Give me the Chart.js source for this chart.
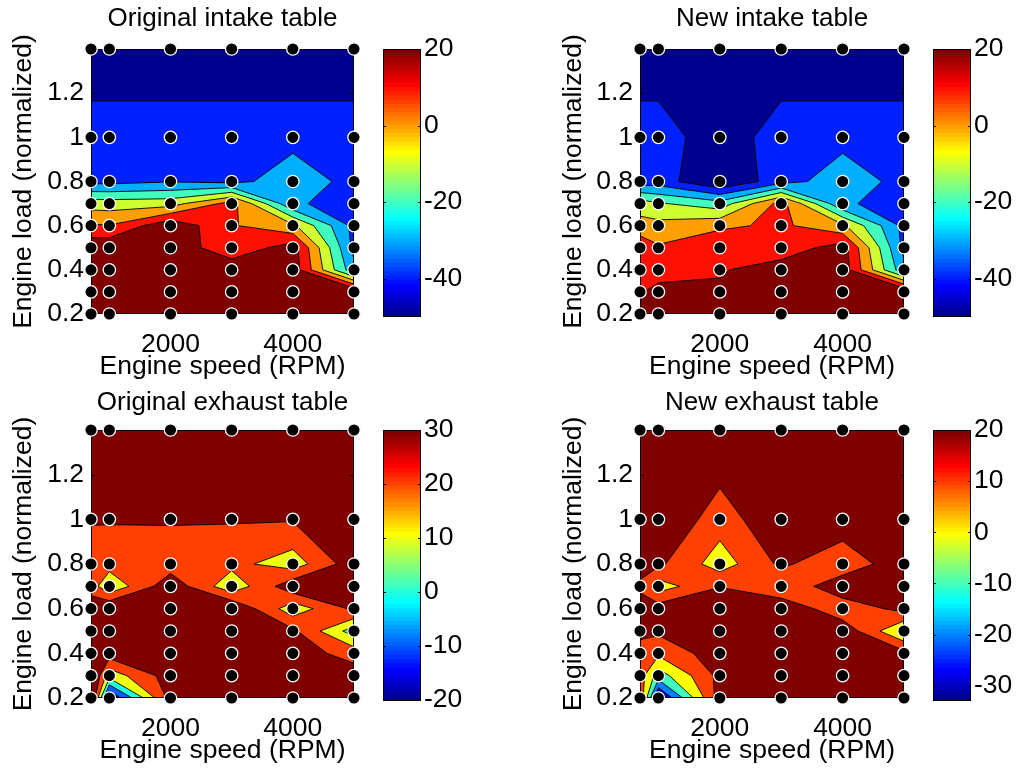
<!DOCTYPE html>
<html>
<head>
<meta charset="utf-8">
<script src="https://cdn.jsdelivr.net/npm/chart.js@4/dist/chart.umd.min.js"></script>
<style>
  body { margin: 0; background: #fff; }
  #fig { position: relative; width: 1018px; height: 769px; overflow: hidden; background: #fff; }
  #fig canvas { position: absolute; }
</style>
</head>
<body>
<div id="fig">
  <canvas id="intakeOld" width="364" height="385" style="left:0px;top:0px"></canvas>
  <canvas id="intakeOldBar" width="105" height="330" style="left:370px;top:10px"></canvas>
  <canvas id="intakeNew" width="364" height="385" style="left:550px;top:0px"></canvas>
  <canvas id="intakeNewBar" width="98" height="330" style="left:920px;top:10px"></canvas>
  <canvas id="exhaustOld" width="364" height="384" style="left:0px;top:385px"></canvas>
  <canvas id="exhaustOldBar" width="105" height="340" style="left:370px;top:390px"></canvas>
  <canvas id="exhaustNew" width="364" height="384" style="left:550px;top:385px"></canvas>
  <canvas id="exhaustNewBar" width="98" height="340" style="left:920px;top:390px"></canvas>
</div>
<script>
Chart.defaults.font.family = "'Liberation Sans', Arial, sans-serif";
Chart.defaults.font.size = 26.5;
Chart.defaults.color = '#000';

// table breakpoints
var speeds = [700, 1000, 2000, 3000, 4000, 5000];
var loads = [0.2, 0.3, 0.4, 0.5, 0.6, 0.7, 0.8, 1.0, 1.4];
var speedTicks = [2000, 4000];
var loadTicks = [0.2, 0.4, 0.6, 0.8, 1, 1.2];

// cam tables, one row per load (0.2 first), one column per speed
var intakeOriginal = [
  [30, 30, 30, 30, 30, 30],
  [30, 30, 30, 30, 30, 30],
  [30, 30, 30, 27, 26, -27],
  [27.7, 28, 27, 13, 24.9, -33],
  [11, 10.5, 27.8, 11, 2, -33],
  [-4.5, -5, -4.2, 14, -29, -33],
  [-33, -33, -30.5, -33, -24.7, -33],
  [-33, -33, -33, -33, -33, -33],
  [-50, -50, -50, -50, -50, -50]
];
var intakeNew = [
  [24.3, 25, 25, 30, 30, 30],
  [19, 23.5, 21.7, 30, 30, 30],
  [18.5, 15, 19, 25.25, 26, -27],
  [17.4, 11.2, 18, 13.9, 24.9, -33],
  [3.7, 3.3, 8, 12, 2, -33],
  [-4.9, -9, -16, 14, -29, -33],
  [-35.2, -35, -50, -34, -24.7, -33],
  [-33, -33, -48.6, -33, -33, -33],
  [-50, -50, -50, -50, -50, -50]
];
var exhaustOriginal = [
  [45, -20.3, 34, 35, 35, 35],
  [45, 14, 35, 35, 35, 35],
  [35, 35, 35, 35, 35, 26],
  [35, 35, 35, 35, 32, 5],
  [37, 40, 35, 40, 14, 32],
  [25, 12, 36.9, 13, 37, 35],
  [25, 24.1, 25, 23, 14.8, 36],
  [30.8, 30.8, 30.8, 30.8, 30.8, 35],
  [35, 35, 35, 35, 35, 35]
];
var exhaustNew = [
  [19, -33, 25, 30, 30, 30],
  [15, -5, 23, 30, 30, 30],
  [12.2, 12, 26, 30, 30, 23],
  [25, 22, 30, 30, 27, -1],
  [25, 25, 30, 28, 12.9, 23.5],
  [18, 5, 19.5, 11, 28, 28],
  [25, 22, 5, 22, 12, 28],
  [30, 30, 14.6, 28.8, 27.6, 30],
  [30, 30, 30, 30, 30, 30]
];

// contour levels and colorbar ticks
var intakeLevels = [-50, -40, -30, -20, -10, 0, 10, 20];
var exhaustOriginalLevels = [-20, -10, 0, 10, 20, 30];
var exhaustNewLevels = [-30, -20, -10, 0, 10, 20];
var intakeBarTicks = [-40, -20, 0, 20];
var exhaustOriginalBarTicks = [-20, -10, 0, 10, 20, 30];
var exhaustNewBarTicks = [-30, -20, -10, 0, 10, 20];

// matlab style jet colormap
function jet(m) {
  var n = Math.ceil(m / 4);
  var u = [];
  var k;
  for (k = 1; k <= n; k++) u.push(k / n);
  for (k = 1; k < n; k++) u.push(1);
  for (k = n; k >= 1; k--) u.push(k / n);
  var g0 = Math.ceil(n / 2) - (m % 4 === 1 ? 1 : 0);
  var map = [];
  for (k = 0; k < m; k++) map.push([0, 0, 0]);
  u.forEach(function(val, i) {
    var g = g0 + i, r = g + n, b = g - n;
    if (r >= 0 && r < m) map[r][0] = val;
    if (g >= 0 && g < m) map[g][1] = val;
    if (b >= 0 && b < m) map[b][2] = val;
  });
  return map.map(function(c) {
    return 'rgb(' + c.map(function(v) { return Math.round(v * 255); }).join(',') + ')';
  });
}
var JET = jet(64);

function colorRange(table, levels) {
  var all = [].concat.apply([], table);
  return { min: Math.min.apply(null, all), max: Math.max.apply(null, levels) };
}
function colorOf(v, range) {
  var i = Math.floor((v - range.min) / (range.max - range.min) * JET.length);
  return JET[Math.max(0, Math.min(JET.length - 1, i))];
}

// filled region and contour segments of one grid cell for one level
// corners go bottom-left, bottom-right, top-right, top-left
function cellPieces(c, level) {
  var hi = c.map(function(p) { return p.v >= level; });
  var count = hi.filter(Boolean).length;
  if (count === 0) return { polys: [], segs: [] };
  if (count === 4) return { polys: [c], segs: [] };
  function cross(a, b) {
    var t = (level - a.v) / (b.v - a.v);
    return { x: a.x + t * (b.x - a.x), y: a.y + t * (b.y - a.y) };
  }
  var polys = [], segs = [], k;
  if (count === 2 && hi[0] === hi[2]) {
    var mean = (c[0].v + c[1].v + c[2].v + c[3].v) / 4;
    var joined = mean >= level;
    var walk = [];
    for (k = 0; k < 4; k++) {
      var prev = c[(k + 3) % 4], next = c[(k + 1) % 4];
      if (hi[k] !== joined) {
        var p1 = cross(prev, c[k]), p2 = cross(c[k], next);
        segs.push([p1, p2]);
        if (!joined) polys.push([c[k], p2, p1]);
      }
      if (joined) {
        if (hi[k]) walk.push(c[k]);
        if (hi[k] !== hi[(k + 1) % 4]) walk.push(cross(c[k], next));
      }
    }
    if (joined) polys.push(walk);
    return { polys: polys, segs: segs };
  }
  var pts = [], hits = [];
  for (k = 0; k < 4; k++) {
    var nx = c[(k + 1) % 4];
    if (hi[k]) pts.push(c[k]);
    if (hi[k] !== hi[(k + 1) % 4]) {
      var q = cross(c[k], nx);
      pts.push(q);
      hits.push(q);
    }
  }
  return { polys: [pts], segs: [hits] };
}

function contourPlugin(table, levels) {
  var range = colorRange(table, levels);
  return {
    id: 'contourFill',
    beforeDatasetsDraw: function(chart) {
      var ctx = chart.ctx, a = chart.chartArea;
      var xs = chart.scales.x, ys = chart.scales.y;
      var px = speeds.map(function(s) { return xs.getPixelForValue(s); });
      var py = loads.map(function(l) { return ys.getPixelForValue(l); });
      ctx.save();
      ctx.beginPath();
      ctx.rect(a.left, a.top, a.right - a.left, a.bottom - a.top);
      ctx.clip();
      ctx.fillStyle = colorOf(range.min, range);
      ctx.fillRect(a.left, a.top, a.right - a.left, a.bottom - a.top);
      var lines = [];
      levels.forEach(function(level) {
        ctx.beginPath();
        for (var j = 0; j < loads.length - 1; j++) {
          for (var i = 0; i < speeds.length - 1; i++) {
            var corners = [
              { x: px[i], y: py[j], v: table[j][i] },
              { x: px[i + 1], y: py[j], v: table[j][i + 1] },
              { x: px[i + 1], y: py[j + 1], v: table[j + 1][i + 1] },
              { x: px[i], y: py[j + 1], v: table[j + 1][i] }
            ];
            var piece = cellPieces(corners, level);
            piece.polys.forEach(function(p) {
              ctx.moveTo(p[0].x, p[0].y);
              for (var n = 1; n < p.length; n++) ctx.lineTo(p[n].x, p[n].y);
              ctx.closePath();
            });
            lines = lines.concat(piece.segs);
          }
        }
        ctx.fillStyle = colorOf(level, range);
        ctx.fill();
      });
      ctx.beginPath();
      lines.forEach(function(s) {
        ctx.moveTo(s[0].x, s[0].y);
        ctx.lineTo(s[1].x, s[1].y);
      });
      ctx.strokeStyle = '#000';
      ctx.lineWidth = 0.9;
      ctx.stroke();
      ctx.restore();
      drawBox(chart, speedTicks, loadTicks);
    }
  };
}

// axes frame with inward ticks on all sides
function drawBox(chart, xTicks, yTicks) {
  var ctx = chart.ctx, a = chart.chartArea, len = 4;
  ctx.save();
  ctx.strokeStyle = '#000';
  ctx.lineWidth = 1;
  ctx.beginPath();
  xTicks.forEach(function(v) {
    var x = Math.round(chart.scales.x.getPixelForValue(v)) + 0.5;
    ctx.moveTo(x, a.bottom); ctx.lineTo(x, a.bottom - len);
    ctx.moveTo(x, a.top); ctx.lineTo(x, a.top + len);
  });
  yTicks.forEach(function(v) {
    var y = Math.round(chart.scales.y.getPixelForValue(v)) + 0.5;
    ctx.moveTo(a.left, y); ctx.lineTo(a.left + len, y);
    ctx.moveTo(a.right, y); ctx.lineTo(a.right - len, y);
  });
  ctx.rect(a.left + 0.5, a.top + 0.5, a.right - a.left - 1, a.bottom - a.top - 1);
  ctx.stroke();
  ctx.restore();
}

var gridPoints = [];
loads.forEach(function(l) {
  speeds.forEach(function(s) { gridPoints.push({ x: s, y: l }); });
});

function drawPanel(id, title, table, levels, geo) {
  new Chart(document.getElementById(id), {
    type: 'scatter',
    data: {
      datasets: [{
        data: gridPoints,
        pointRadius: 6.2,
        pointBackgroundColor: '#000',
        pointBorderColor: '#fff',
        pointBorderWidth: 1.3,
        clip: false
      }]
    },
    options: {
      responsive: false,
      animation: false,
      events: [],
      layout: { padding: { right: 10 } },
      plugins: {
        legend: { display: false },
        tooltip: { enabled: false },
        title: {
          display: true,
          fullSize: false,
          text: title,
          font: { size: 26, weight: 'normal' },
          padding: { top: geo.titleTop, bottom: geo.titleBottom }
        }
      },
      scales: {
        x: {
          type: 'linear',
          min: 700,
          max: 5000,
          afterBuildTicks: function(s) { s.ticks = speedTicks.map(function(v) { return { value: v }; }); },
          afterFit: function(s) { s.height = geo.xHeight; },
          grid: { display: false },
          border: { display: false },
          ticks: { padding: 7, maxRotation: 0, autoSkip: false, callback: function(v) { return String(v); } },
          title: { display: true, text: 'Engine speed (RPM)', padding: { top: 0, bottom: 2 } }
        },
        y: {
          type: 'linear',
          min: 0.2,
          max: 1.4,
          afterBuildTicks: function(s) { s.ticks = loadTicks.map(function(v) { return { value: v }; }); },
          afterFit: function(s) { s.width = geo.yWidth; },
          grid: { display: false, drawTicks: false },
          border: { display: false },
          ticks: { padding: 7, autoSkip: false, callback: function(v) { return String(v); } },
          title: { display: true, text: 'Engine load (normalized)', padding: { top: 7.4, bottom: 0 } }
        }
      }
    },
    plugins: [contourPlugin(table, levels)]
  });
}

// colorbar: 64 stacked floating bars, highest band drawn on top
function drawColorbar(id, table, levels, ticks, geo) {
  var range = colorRange(table, levels);
  var step = (range.max - range.min) / JET.length;
  var sets = [];
  for (var k = JET.length - 1; k >= 0; k--) {
    sets.push({
      data: [[range.min + k * step, range.max]],
      backgroundColor: JET[k],
      borderWidth: 0,
      barPercentage: 1,
      categoryPercentage: 1,
      grouped: false
    });
  }
  new Chart(document.getElementById(id), {
    type: 'bar',
    data: { labels: [''], datasets: sets },
    options: {
      responsive: false,
      animation: false,
      events: [],
      layout: { padding: { left: geo.left, top: geo.top, bottom: geo.bottom, right: 0 } },
      plugins: { legend: { display: false }, tooltip: { enabled: false } },
      scales: {
        x: { display: false },
        y: {
          position: 'right',
          min: range.min,
          max: range.max,
          afterBuildTicks: function(s) { s.ticks = ticks.map(function(v) { return { value: v }; }); },
          afterFit: function(s) { s.width = geo.axis; },
          grid: { display: false, drawTicks: false },
          border: { display: false },
          ticks: { padding: 3, crossAlign: 'near', autoSkip: false, callback: function(v) { return String(v); } }
        }
      }
    },
    plugins: [{
      id: 'barFrame',
      afterDatasetsDraw: function(chart) {
        var ctx = chart.ctx, a = chart.chartArea;
        ctx.save();
        ctx.strokeStyle = '#000';
        ctx.lineWidth = 1;
        ctx.beginPath();
        ticks.forEach(function(v) {
          var y = Math.round(chart.scales.y.getPixelForValue(v)) + 0.5;
          ctx.moveTo(a.left, y); ctx.lineTo(a.left + 3, y);
          ctx.moveTo(a.right, y); ctx.lineTo(a.right - 3, y);
        });
        ctx.rect(a.left + 0.5, a.top + 0.5, a.right - a.left - 1, a.bottom - a.top - 1);
        ctx.stroke();
        ctx.restore();
      }
    }]
  });
}

drawPanel('intakeOld', 'Original intake table', intakeOriginal, intakeLevels,
  { yWidth: 91, xHeight: 71, titleTop: 3.4, titleBottom: 14.4 });
drawPanel('intakeNew', 'New intake table', intakeNew, intakeLevels,
  { yWidth: 90, xHeight: 71, titleTop: 3.4, titleBottom: 14.4 });
drawPanel('exhaustOld', 'Original exhaust table', exhaustOriginal, exhaustOriginalLevels,
  { yWidth: 91, xHeight: 71, titleTop: 1.9, titleBottom: 11.9 });
drawPanel('exhaustNew', 'New exhaust table', exhaustNew, exhaustNewLevels,
  { yWidth: 90, xHeight: 71, titleTop: 1.9, titleBottom: 11.9 });

drawColorbar('intakeOldBar', intakeOriginal, intakeLevels, intakeBarTicks,
  { left: 13, top: 39, bottom: 23, axis: 54 });
drawColorbar('intakeNewBar', intakeNew, intakeLevels, intakeBarTicks,
  { left: 13, top: 39, bottom: 23, axis: 47 });
drawColorbar('exhaustOldBar', exhaustOriginal, exhaustOriginalLevels, exhaustOriginalBarTicks,
  { left: 13, top: 40, bottom: 29, axis: 54 });
drawColorbar('exhaustNewBar', exhaustNew, exhaustNewLevels, exhaustNewBarTicks,
  { left: 13, top: 40, bottom: 29, axis: 47 });
</script>
</body>
</html>
